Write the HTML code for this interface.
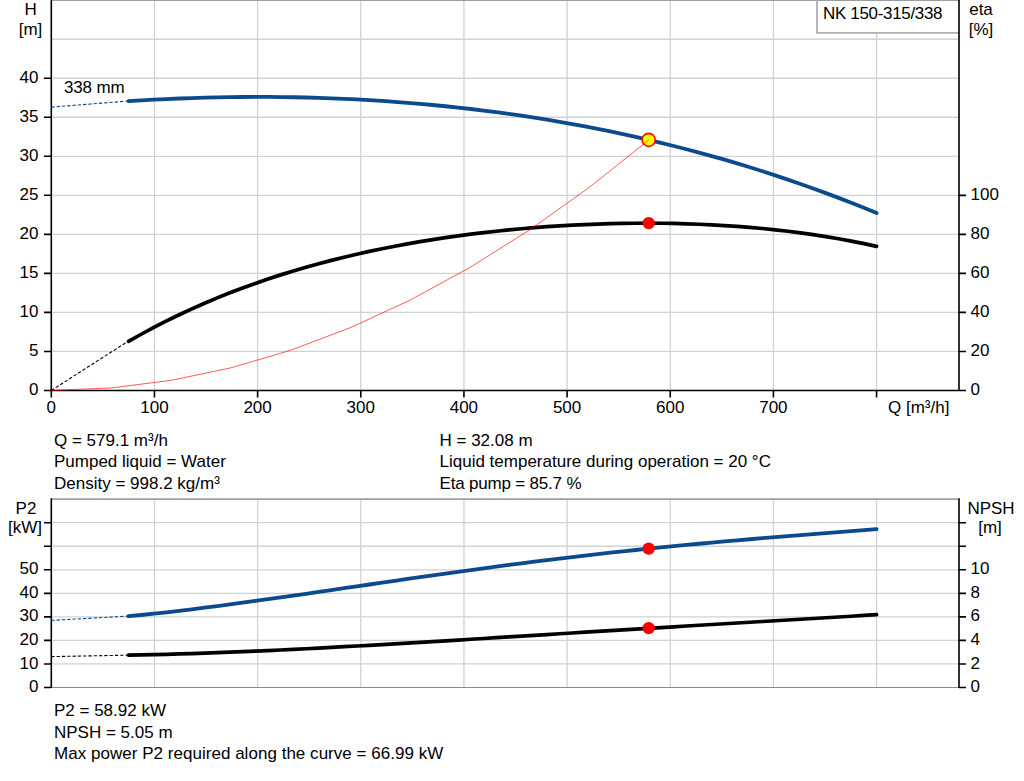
<!DOCTYPE html><html><head><meta charset="utf-8"><style>html,body{margin:0;padding:0;background:#fff;}svg{display:block}text{font-family:"Liberation Sans", sans-serif;font-size:17px;fill:#000}</style></head><body>
<svg width="1024" height="781" viewBox="0 0 1024 781">
<rect width="1024" height="781" fill="#fff"/>
<path d="M154.46,0 V390.4 M257.62,0 V390.4 M360.78,0 V390.4 M463.94,0 V390.4 M567.10,0 V390.4 M670.26,0 V390.4 M773.42,0 V390.4 M876.58,0 V390.4 M51.3,351.43 H959 M51.3,312.40 H959 M51.3,273.38 H959 M51.3,234.35 H959 M51.3,195.32 H959 M51.3,156.30 H959 M51.3,117.27 H959 M51.3,78.25 H959 M51.3,39.23 H959" stroke="#cfd3d6" stroke-width="1.3" fill="none"/>
<path d="M51.3,0.5 H959" stroke="#9c9da0" stroke-width="1" fill="none"/>
<rect x="817" y="1" width="142" height="31.9" fill="#fff"/>
<path d="M817,0 V32.85 H959" stroke="#b0b0b0" stroke-width="1.8" fill="none"/>
<text x="823" y="18.6" textLength="119.5">NK 150-315/338</text>
<path d="M51.3,0 V397.6 M44,390.45 H959 M959,0 V390.45 M44,390.45 H51.3 M44,351.43 H51.3 M44,312.40 H51.3 M44,273.38 H51.3 M44,234.35 H51.3 M44,195.32 H51.3 M44,156.30 H51.3 M44,117.27 H51.3 M44,78.25 H51.3 M51.30,390.45 V397.6 M154.46,390.45 V397.6 M257.62,390.45 V397.6 M360.78,390.45 V397.6 M463.94,390.45 V397.6 M567.10,390.45 V397.6 M670.26,390.45 V397.6 M773.42,390.45 V397.6 M876.58,390.45 V397.6 M959,390.45 H966 M959,351.43 H966 M959,312.40 H966 M959,273.38 H966 M959,234.35 H966 M959,195.33 H966" stroke="#000" stroke-width="1.6" fill="none"/>
<text x="38.5" y="394.9" text-anchor="end">0</text><text x="38.5" y="355.9" text-anchor="end">5</text><text x="38.5" y="316.9" text-anchor="end">10</text><text x="38.5" y="277.9" text-anchor="end">15</text><text x="38.5" y="238.8" text-anchor="end">20</text><text x="38.5" y="199.8" text-anchor="end">25</text><text x="38.5" y="160.8" text-anchor="end">30</text><text x="38.5" y="121.8" text-anchor="end">35</text><text x="38.5" y="82.8" text-anchor="end">40</text><text x="51.3" y="413" text-anchor="middle">0</text><text x="154.5" y="413" text-anchor="middle">100</text><text x="257.6" y="413" text-anchor="middle">200</text><text x="360.8" y="413" text-anchor="middle">300</text><text x="463.9" y="413" text-anchor="middle">400</text><text x="567.1" y="413" text-anchor="middle">500</text><text x="670.3" y="413" text-anchor="middle">600</text><text x="773.4" y="413" text-anchor="middle">700</text><text x="970.5" y="394.9">0</text><text x="970.5" y="355.9">20</text><text x="970.5" y="316.9">40</text><text x="970.5" y="277.9">60</text><text x="970.5" y="238.9">80</text><text x="970.5" y="199.8">100</text><text x="30.7" y="14.7" text-anchor="middle">H</text><text x="30.5" y="34.6" text-anchor="middle">[m]</text><text x="981" y="14.9" text-anchor="middle">eta</text><text x="981" y="34.6" text-anchor="middle">[%]</text><text x="888" y="413">Q [m³/h]</text><text x="64" y="92.8" textLength="60.6">338 mm</text>
<path d="M51.3,107.1 L128.5,101.0" stroke="#0b4a8c" stroke-width="1.1" stroke-dasharray="3.3,2" fill="none"/>
<path d="M51.3,390.45 L128.5,341" stroke="#000" stroke-width="1.1" stroke-dasharray="3.3,2" fill="none"/>
<path d="M128.50,101.07 L141.18,100.32 L153.86,99.63 L166.54,99.03 L179.22,98.49 L191.90,98.04 L204.58,97.66 L217.26,97.36 L229.94,97.15 L242.62,97.00 L255.30,96.94 L267.98,96.97 L280.66,97.07 L293.34,97.25 L306.02,97.52 L318.69,97.88 L331.37,98.31 L344.05,98.84 L356.73,99.45 L369.41,100.15 L382.09,100.94 L394.77,101.81 L407.45,102.78 L420.13,103.84 L432.81,104.99 L445.49,106.24 L458.17,107.58 L470.85,109.01 L483.53,110.55 L496.21,112.18 L508.89,113.91 L521.57,115.74 L534.25,117.67 L546.93,119.71 L559.61,121.85 L572.29,124.09 L584.97,126.44 L597.65,128.90 L610.33,131.46 L623.01,134.14 L635.69,136.93 L648.37,139.83 L661.05,142.85 L673.73,145.98 L686.41,149.23 L699.08,152.59 L711.76,156.08 L724.44,159.69 L737.12,163.42 L749.80,167.28 L762.48,171.26 L775.16,175.37 L787.84,179.61 L800.52,183.98 L813.20,188.48 L825.88,193.12 L838.56,197.89 L851.24,202.80 L863.92,207.84 L876.60,213.03" stroke="#0b4a8c" stroke-width="3.8" fill="none" stroke-linejoin="round" stroke-linecap="round"/>
<path d="M128.50,341.40 L141.18,334.26 L153.86,327.45 L166.54,320.96 L179.22,314.77 L191.90,308.87 L204.58,303.25 L217.26,297.91 L229.94,292.82 L242.62,287.99 L255.30,283.39 L267.98,279.02 L280.66,274.88 L293.34,270.95 L306.02,267.22 L318.69,263.68 L331.37,260.34 L344.05,257.18 L356.73,254.19 L369.41,251.37 L382.09,248.71 L394.77,246.21 L407.45,243.85 L420.13,241.65 L432.81,239.58 L445.49,237.65 L458.17,235.85 L470.85,234.18 L483.53,232.64 L496.21,231.22 L508.89,229.92 L521.57,228.73 L534.25,227.67 L546.93,226.71 L559.61,225.87 L572.29,225.15 L584.97,224.54 L597.65,224.04 L610.33,223.65 L623.01,223.38 L635.69,223.23 L648.37,223.19 L661.05,223.27 L673.73,223.47 L686.41,223.79 L699.08,224.24 L711.76,224.82 L724.44,225.54 L737.12,226.39 L749.80,227.39 L762.48,228.53 L775.16,229.82 L787.84,231.28 L800.52,232.89 L813.20,234.68 L825.88,236.65 L838.56,238.79 L851.24,241.13 L863.92,243.67 L876.60,246.42" stroke="#000" stroke-width="3.7" fill="none" stroke-linejoin="round" stroke-linecap="round"/>
<circle cx="648.70" cy="139.9" r="6.5" fill="#ffff00" stroke="#ff0000" stroke-width="1.6"/>
<path d="M51.30,390.45 L111.04,387.95 L170.78,380.43 L230.52,367.92 L290.26,350.39 L350.00,327.85 L409.74,300.31 L469.48,267.76 L529.22,230.20 L588.96,187.64 L648.70,140.07" stroke="#ff0000" stroke-opacity="0.65" stroke-width="1" fill="none"/>
<circle cx="648.70" cy="223.1" r="6.2" fill="#ff0000"/>
<text x="54" y="446">Q = 579.1 m³/h</text><text x="54" y="467">Pumped liquid = Water</text><text x="54" y="488.5">Density = 998.2 kg/m³</text><text x="439.5" y="446">H = 32.08 m</text><text x="439.5" y="467">Liquid temperature during operation = 20 °C</text><text x="439.5" y="488.5" textLength="142">Eta pump = 85.7 %</text>
<path d="M154.46,499 V687.5 M257.62,499 V687.5 M360.78,499 V687.5 M463.94,499 V687.5 M567.10,499 V687.5 M670.26,499 V687.5 M773.42,499 V687.5 M876.58,499 V687.5 M51.3,663.96 H959 M51.3,640.42 H959 M51.3,616.88 H959 M51.3,593.34 H959 M51.3,569.80 H959 M51.3,546.26 H959 M51.3,522.72 H959" stroke="#cfd3d6" stroke-width="1.3" fill="none"/>
<path d="M51.3,499.1 H959" stroke="#a0a0a0" stroke-width="1.6" fill="none"/>
<path d="M51.3,687.5 H959" stroke="#8a8a8a" stroke-width="1.1" fill="none"/>
<path d="M51.3,498.3 V688 M959,498.3 V688 M44,687.50 H51.3 M44,663.96 H51.3 M44,640.42 H51.3 M44,616.88 H51.3 M44,593.34 H51.3 M44,569.80 H51.3 M44,546.26 H51.3 M44,522.72 H51.3 M959,687.50 H966 M959,663.96 H966 M959,640.42 H966 M959,616.88 H966 M959,593.34 H966 M959,569.80 H966 M959,546.26 H966 M959,522.72 H966" stroke="#000" stroke-width="1.6" fill="none"/>
<text x="38.5" y="692.0" text-anchor="end">0</text><text x="38.5" y="668.5" text-anchor="end">10</text><text x="38.5" y="644.9" text-anchor="end">20</text><text x="38.5" y="621.4" text-anchor="end">30</text><text x="38.5" y="597.8" text-anchor="end">40</text><text x="38.5" y="574.3" text-anchor="end">50</text><text x="970.5" y="692.0">0</text><text x="970.5" y="668.5">2</text><text x="970.5" y="644.9">4</text><text x="970.5" y="621.4">6</text><text x="970.5" y="597.8">8</text><text x="970.5" y="574.3">10</text><text x="26" y="514.2" text-anchor="middle">P2</text><text x="25" y="533" text-anchor="middle">[kW]</text><text x="991" y="513.7" text-anchor="middle">NPSH</text><text x="990" y="532.5" text-anchor="middle">[m]</text>
<path d="M51.3,620.4 L128.5,616.1" stroke="#0b4a8c" stroke-width="1.1" stroke-dasharray="3.3,2" fill="none"/>
<path d="M51.3,656.6 L128.5,655.15" stroke="#000" stroke-width="1.1" stroke-dasharray="3.3,2" fill="none"/>
<path d="M128.50,616.23 L141.18,614.99 L153.86,613.67 L166.54,612.28 L179.22,610.82 L191.90,609.30 L204.58,607.73 L217.26,606.11 L229.94,604.44 L242.62,602.73 L255.30,600.99 L267.98,599.22 L280.66,597.43 L293.34,595.61 L306.02,593.78 L318.69,591.93 L331.37,590.08 L344.05,588.22 L356.73,586.36 L369.41,584.50 L382.09,582.64 L394.77,580.80 L407.45,578.96 L420.13,577.14 L432.81,575.33 L445.49,573.55 L458.17,571.78 L470.85,570.03 L483.53,568.31 L496.21,566.62 L508.89,564.95 L521.57,563.31 L534.25,561.70 L546.93,560.13 L559.61,558.58 L572.29,557.07 L584.97,555.59 L597.65,554.14 L610.33,552.73 L623.01,551.35 L635.69,550.00 L648.37,548.68 L661.05,547.40 L673.73,546.15 L686.41,544.93 L699.08,543.74 L711.76,542.58 L724.44,541.44 L737.12,540.34 L749.80,539.25 L762.48,538.19 L775.16,537.14 L787.84,536.12 L800.52,535.11 L813.20,534.11 L825.88,533.13 L838.56,532.15 L851.24,531.17 L863.92,530.20 L876.60,529.22" stroke="#0b4a8c" stroke-width="3.8" fill="none" stroke-linecap="round"/>
<path d="M128.50,655.15 L141.18,654.92 L153.86,654.64 L166.54,654.33 L179.22,653.97 L191.90,653.58 L204.58,653.16 L217.26,652.70 L229.94,652.21 L242.62,651.69 L255.30,651.15 L267.98,650.58 L280.66,649.98 L293.34,649.37 L306.02,648.73 L318.69,648.08 L331.37,647.40 L344.05,646.72 L356.73,646.02 L369.41,645.30 L382.09,644.57 L394.77,643.84 L407.45,643.09 L420.13,642.34 L432.81,641.57 L445.49,640.81 L458.17,640.03 L470.85,639.26 L483.53,638.48 L496.21,637.70 L508.89,636.91 L521.57,636.13 L534.25,635.34 L546.93,634.55 L559.61,633.77 L572.29,632.98 L584.97,632.20 L597.65,631.42 L610.33,630.64 L623.01,629.86 L635.69,629.09 L648.37,628.32 L661.05,627.55 L673.73,626.78 L686.41,626.02 L699.08,625.26 L711.76,624.50 L724.44,623.75 L737.12,622.99 L749.80,622.24 L762.48,621.49 L775.16,620.74 L787.84,619.99 L800.52,619.24 L813.20,618.49 L825.88,617.74 L838.56,616.99 L851.24,616.23 L863.92,615.47 L876.60,614.71" stroke="#000" stroke-width="3.7" fill="none" stroke-linecap="round"/>
<circle cx="648.70" cy="548.6" r="6.2" fill="#ff0000"/>
<circle cx="648.70" cy="628.1" r="6.2" fill="#ff0000"/>
<text x="54" y="716">P2 = 58.92 kW</text><text x="54" y="738">NPSH = 5.05 m</text><text x="54" y="759.1" textLength="389.3">Max power P2 required along the curve = 66.99 kW</text>
</svg></body></html>
